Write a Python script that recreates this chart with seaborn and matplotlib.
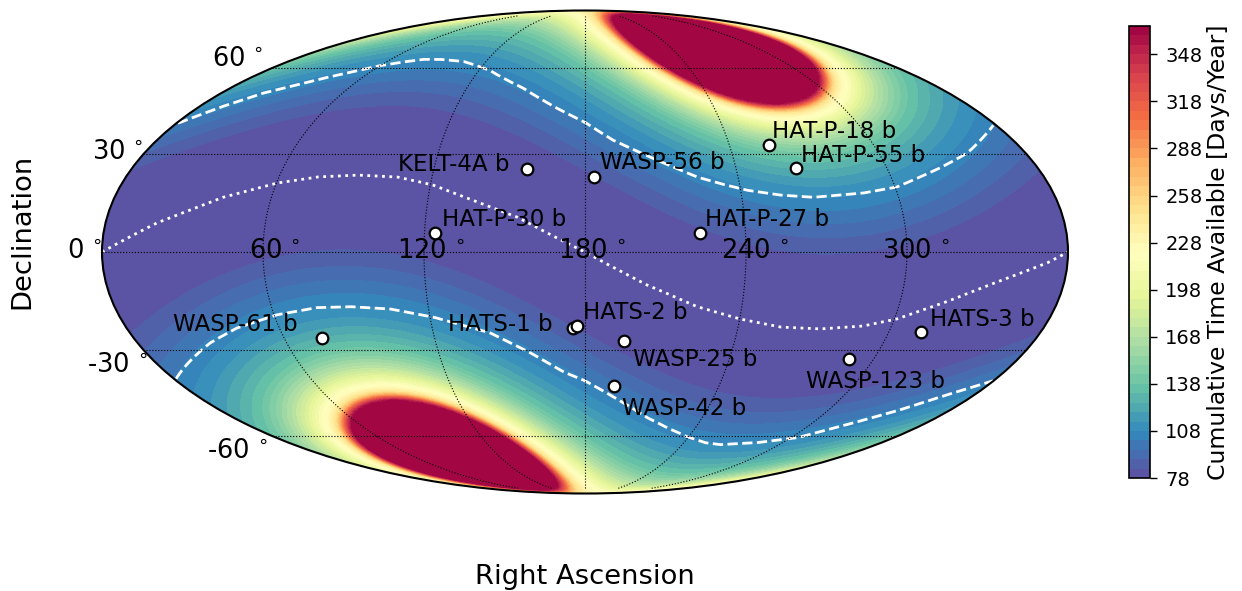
import numpy as np
import pandas as pd
import seaborn as sns
import matplotlib
matplotlib.use("Agg")
import matplotlib.pyplot as plt
from matplotlib.transforms import Affine2D

# === Values ===
planets = ["KELT-4A b", "HAT-P-30 b", "WASP-56 b", "HAT-P-27 b", "HAT-P-18 b", "HAT-P-55 b", "WASP-61 b",
           "HATS-1 b", "HATS-2 b", "WASP-25 b", "WASP-42 b", "WASP-123 b", "HATS-3 b"]
planet_ra = [157.0, 124.0, 183.5, 223.0, 256.5, 264.0, 75.2, 175.3, 176.9, 195.7, 193.0, 289.7, 312.7]
planet_dec = [25.4, 5.8, 22.9, 5.8, 32.9, 25.7, -26.2, -23.2, -22.6, -27.4, -41.9, -32.9, -24.4]

upper_ra = [0.7, 11.0, 20.9, 39.5, 58.7, 69.0, 79.9, 90.4, 106.0, 116.0, 126.3, 148.6, 167.0, 180.0, 191.8, 209.0,
            223.9, 233.2, 242.4, 254.8, 267.2, 286.8, 300.7, 321.0, 336.0, 348.5, 358.7]
upper_dec = [40.2, 46.0, 50.6, 56.0, 60.7, 62.2, 63.4, 63.4, 62.6, 61.0, 59.0, 52.4, 45.3, 40.5, 34.6, 28.2,
             22.9, 20.7, 18.8, 17.3, 16.6, 17.9, 19.8, 25.7, 30.4, 35.5, 39.5]
lower_ra = [1.0, 14.8, 29.2, 43.4, 61.2, 77.3, 90.1, 105.2, 121.2, 142.4, 157.5, 170.6, 180.0, 193.0, 211.7,
            225.4, 238.9, 252.8, 263.4, 284.4, 303.6, 319.7, 334.2, 347.2, 359.8]
lower_dec = [-39.5, -33.8, -27.9, -23.2, -19.1, -16.9, -16.6, -17.3, -19.8, -24.7, -31.0, -37.2, -40.2, -45.6, -53.0,
             -57.0, -60.2, -62.6, -63.4, -62.6, -60.7, -55.6, -50.6, -45.0, -40.2]
ecl_ra = [0.0, 19.3, 41.5, 60.2, 75.0, 90.4, 106.3, 113.7, 121.0, 137.3, 154.4, 169.6, 180.0, 186.7, 203.3, 222.9,
          240.1, 256.4, 272.4, 288.8, 301.0, 317.9, 334.7, 352.4, 360.0]
ecl_dec = [0.0, 8.8, 16.6, 21.0, 22.9, 23.5, 22.9, 21.7, 20.4, 15.7, 10.6, 4.2, 0.0, -3.0, -10.0, -16.6,
           -20.4, -22.9, -23.5, -22.6, -20.4, -15.0, -9.1, -3.3, 0.0]

# time available against distance from the ecliptic, estimated from the colours
profile_beta = [0, 10, 18, 24, 30, 36, 40, 44, 48, 53, 56, 59, 62, 64, 66, 67.5, 68.5, 69.5, 70.5, 90]
profile_days = [78, 78, 80, 85, 93, 102, 108, 115, 124, 138, 152, 170, 192, 210, 228, 248, 285, 330, 366, 366]

ra_ticks = [60, 120, 180, 240, 300]
dec_ticks = [-60, -30, 0, 30, 60]
cbar_ticks = [78, 108, 138, 168, 198, 228, 258, 288, 318, 348]

# label offsets from the marker, in pixels
label_offsets = {"KELT-4A b": (-129, -2), "HAT-P-30 b": (7, 7), "WASP-56 b": (6, 8), "HAT-P-27 b": (5, 7),
                 "HAT-P-18 b": (3, 7), "HAT-P-55 b": (5, 6), "WASP-61 b": (-149, 7), "HATS-1 b": (-125, -3),
                 "HATS-2 b": (6, 7), "WASP-25 b": (9, -25), "WASP-42 b": (8, -29), "WASP-123 b": (-43, -29),
                 "HATS-3 b": (9, 6)}
# tick label nudges, in pixels
ra_nudge = {60: (12, -16), 120: (7, -16), 180: (7, -16), 240: (9, -16), 300: (9, -16)}
dec_nudge = {-60: (3, 4), -30: (12, -6), 0: (8, 1), 30: (8, -7), 60: (-1, -10)}


def to_frame(ra, dec):
    return pd.DataFrame({"x": np.radians(np.array(ra) - 180), "y": np.radians(dec)})


sns.set_style("white")
plt.rcParams.update({"text.color": "black", "axes.labelcolor": "black", "xtick.color": "black", "ytick.color": "black"})
W, H = 1242, 591
fig = plt.figure(figsize=(W / 100, H / 100), dpi=100)
ax = fig.add_axes([102 / W, (H - 494) / H, 966 / W, 484 / H], projection="mollweide")
cax = fig.add_axes([1129 / W, (H - 478) / H, 21 / W, 452 / H])

# === Sky map ===
# the field only depends on ecliptic latitude, so the read profile is mapped through that coordinate
eps = np.radians(23.44)
lon = np.linspace(-np.pi, np.pi, 361)
lat = np.linspace(-np.pi / 2, np.pi / 2, 181)
LON, LAT = np.meshgrid(lon, lat)
RA = LON + np.pi
beta = np.degrees(np.arcsin(np.sin(LAT) * np.cos(eps) - np.cos(LAT) * np.sin(eps) * np.sin(RA)))
days = np.interp(np.abs(beta), profile_beta, profile_days)

cmap = sns.color_palette("Spectral_r", as_cmap=True)
levels = np.arange(78, 367, 6)
cf = ax.contourf(LON, LAT, days, levels=levels, cmap=cmap, vmin=78, vmax=366)

sns.lineplot(data=to_frame(upper_ra, upper_dec), x="x", y="y", sort=False, estimator=None, color="white",
             linestyle="--", linewidth=2, ax=ax)
sns.lineplot(data=to_frame(lower_ra, lower_dec), x="x", y="y", sort=False, estimator=None, color="white",
             linestyle="--", linewidth=2, ax=ax)
sns.lineplot(data=to_frame(ecl_ra, ecl_dec), x="x", y="y", sort=False, estimator=None, color="white",
             linestyle=":", linewidth=2, ax=ax)

pts = to_frame(planet_ra, planet_dec)
sns.scatterplot(data=pts, x="x", y="y", color="white", edgecolor="black", linewidth=1.6, s=70, zorder=5, ax=ax)
for name, x, y in zip(planets, pts["x"], pts["y"]):
    dx, dy = label_offsets[name]
    ax.annotate(name, (x, y), xytext=(dx * 0.72, dy * 0.72), textcoords="offset points", fontsize=16.6,
                color="black", zorder=6)

ax.set_longitude_grid_ends(85)
ax.set_xticks(np.radians(np.array(ra_ticks) - 180))
ax.set_xticklabels([f"{t}$\\,^\\circ$" for t in ra_ticks], fontsize=18.5)
ax.set_yticks(np.radians(dec_ticks))
ax.set_yticklabels([f"{t}$\\,^\\circ$" for t in dec_ticks], fontsize=18.5)
for t, tick in zip(ra_ticks, ax.xaxis.get_major_ticks()):
    tick.label1.set_transform(tick.label1.get_transform() + Affine2D().translate(*ra_nudge[t]))
for t, tick in zip(dec_ticks, ax.yaxis.get_major_ticks()):
    tick.label1.set_transform(tick.label1.get_transform() + Affine2D().translate(*dec_nudge[t]))
ax.set_axisbelow(False)
ax.grid(True, color="black", linestyle=":", linewidth=0.8)
ax.spines["geo"].set_linewidth(1.5)
ax.spines["geo"].set_edgecolor("black")
ax.set_xlabel("Right Ascension", fontsize=19.7, va="center")
ax.set_ylabel("Declination", fontsize=19.7, va="center")
ax.xaxis.set_label_coords(0.5, (494 - 578) / 484, transform=ax.transAxes)
ax.yaxis.set_label_coords((22 - 102) / 966, (494 - 231) / 484, transform=ax.transAxes)

# === Colorbar ===
cb = fig.colorbar(cf, cax=cax)
cb.set_ticks(cbar_ticks)
cb.ax.tick_params(length=5, width=1, labelsize=14, color="black", left=False, right=True, pad=6)
cb.outline.set_linewidth(1.2)
cb.outline.set_edgecolor("black")
cb.set_label("Cumulative Time Available [Days/Year]", fontsize=16.9, va="center")
cb.ax.yaxis.set_label_coords((1219 - 1129) / 21, 0.5, transform=cb.ax.transAxes)

fig.savefig("out.png", dpi=100)
